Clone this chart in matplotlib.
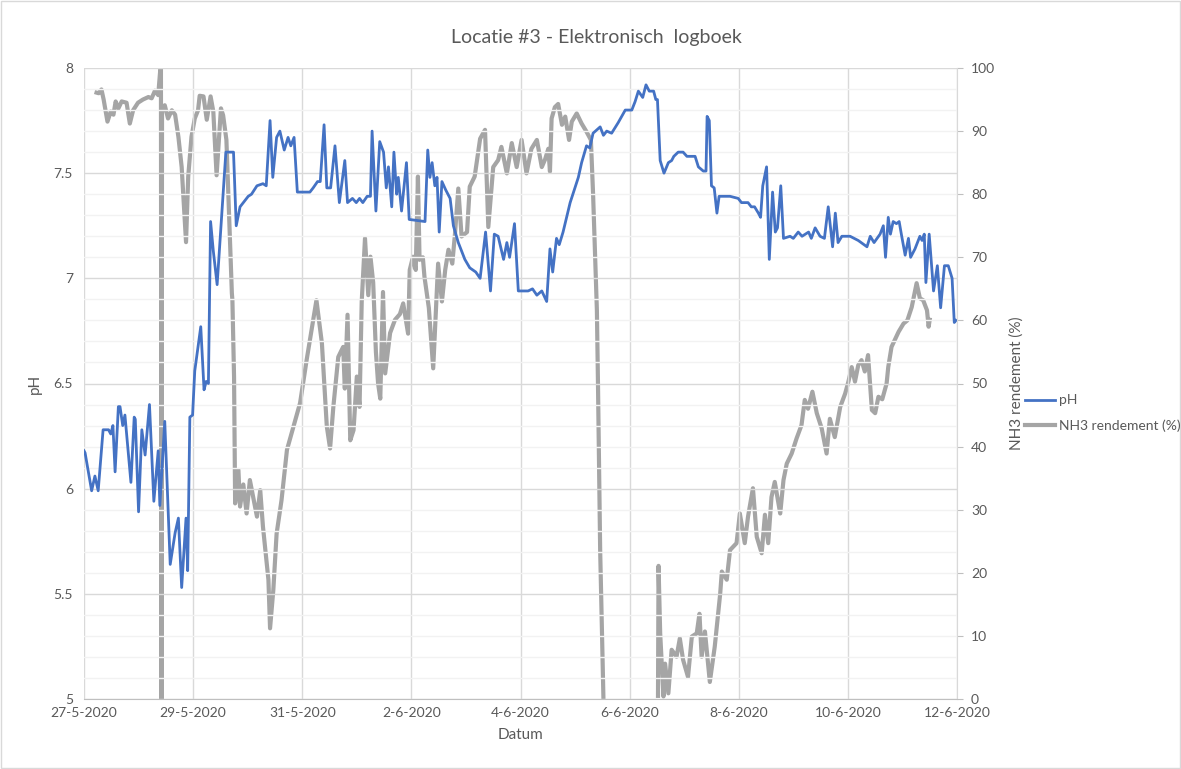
import numpy as np
import pandas as pd
import matplotlib
matplotlib.use("Agg")
import matplotlib.pyplot as plt
import matplotlib.dates as mdates
from matplotlib.ticker import FuncFormatter, MultipleLocator

plt.rcParams['font.family'] = ['Lato', 'DejaVu Sans']

start = pd.Timestamp("2020-05-27")

# pH: tijd in dagen na 27-5-2020
ph_dag = [0.00, 0.02, 0.14, 0.20, 0.26, 0.35, 0.45, 0.49, 0.53, 0.57, 0.63, 0.66, 0.71, 0.75,
          0.86, 0.92, 0.94, 1.00, 1.06, 1.12, 1.20, 1.28, 1.36, 1.39, 1.48, 1.58, 1.67, 1.73,
          1.79, 1.87, 1.90, 1.94, 1.99, 2.03, 2.14, 2.20, 2.24, 2.28, 2.32, 2.37, 2.44, 2.60,
          2.74, 2.79, 2.86, 2.92, 3.01, 3.07, 3.17, 3.28, 3.34, 3.41, 3.46, 3.53, 3.59, 3.67,
          3.74, 3.79, 3.85, 3.91, 4.14, 4.20, 4.28, 4.33, 4.40, 4.45, 4.52, 4.60, 4.68, 4.78,
          4.83, 4.92, 4.99, 5.05, 5.11, 5.19, 5.25, 5.28, 5.35, 5.42, 5.49, 5.54, 5.58, 5.64,
          5.68, 5.73, 5.76, 5.82, 5.91, 5.96, 6.25, 6.30, 6.34, 6.38, 6.43, 6.47, 6.51, 6.56,
          6.63, 6.71, 6.77, 6.86, 6.98, 7.07, 7.18, 7.26, 7.36, 7.45, 7.52, 7.59, 7.69, 7.75,
          7.80, 7.89, 7.96, 8.14, 8.22, 8.30, 8.39, 8.48, 8.54, 8.59, 8.66, 8.71, 8.78, 8.91,
          9.06, 9.12, 9.21, 9.27, 9.33, 9.46, 9.52, 9.58, 9.67, 9.79, 9.92, 10.04, 10.10, 10.16,
          10.24, 10.30, 10.36, 10.44, 10.48, 10.51, 10.56, 10.63, 10.71, 10.77, 10.81, 10.89,
          10.98, 11.05, 11.20, 11.26, 11.35, 11.40, 11.42, 11.46, 11.50, 11.55, 11.60, 11.64,
          11.75, 11.84, 11.99, 12.05, 12.17, 12.23, 12.29, 12.36, 12.40, 12.44, 12.51, 12.56,
          12.62, 12.67, 12.71, 12.77, 12.82, 12.94, 13.00, 13.09, 13.16, 13.28, 13.33, 13.40,
          13.49, 13.57, 13.64, 13.72, 13.77, 13.82, 13.89, 14.04, 14.19, 14.35, 14.41, 14.48,
          14.59, 14.65, 14.69, 14.74, 14.78, 14.83, 14.89, 14.94, 14.98, 15.05, 15.11, 15.15,
          15.23, 15.32, 15.36, 15.40, 15.43, 15.49, 15.57, 15.64, 15.70, 15.77, 15.84, 15.91,
          15.95, 15.98]
ph = [6.18, 6.17, 5.99, 6.06, 5.99, 6.28, 6.28, 6.26, 6.30, 6.08, 6.39, 6.39, 6.30, 6.35,
      6.03, 6.34, 6.33, 5.89, 6.28, 6.16, 6.40, 5.94, 6.18, 5.92, 6.32, 5.64, 5.79, 5.86,
      5.53, 5.86, 5.61, 6.34, 6.35, 6.56, 6.77, 6.47, 6.51, 6.50, 7.27, 7.13, 6.97, 7.60,
      7.60, 7.25, 7.34, 7.36, 7.39, 7.40, 7.44, 7.45, 7.44, 7.75, 7.48, 7.67, 7.70, 7.61,
      7.67, 7.63, 7.67, 7.41, 7.41, 7.43, 7.46, 7.46, 7.73, 7.43, 7.43, 7.63, 7.36, 7.56,
      7.36, 7.38, 7.36, 7.38, 7.36, 7.39, 7.39, 7.70, 7.32, 7.65, 7.60, 7.43, 7.53, 7.34,
      7.60, 7.40, 7.48, 7.32, 7.55, 7.28, 7.27, 7.61, 7.48, 7.55, 7.44, 7.48, 7.22, 7.46,
      7.42, 7.38, 7.25, 7.17, 7.09, 7.05, 7.03, 7.00, 7.22, 6.94, 7.21, 7.20, 7.09, 7.17,
      7.10, 7.26, 6.94, 6.94, 6.95, 6.92, 6.94, 6.89, 7.14, 7.03, 7.19, 7.16, 7.22, 7.36,
      7.48, 7.55, 7.63, 7.62, 7.69, 7.72, 7.68, 7.70, 7.69, 7.74, 7.80, 7.80, 7.84, 7.89,
      7.86, 7.92, 7.89, 7.89, 7.85, 7.85, 7.56, 7.50, 7.55, 7.56, 7.58, 7.60,
      7.60, 7.58, 7.58, 7.53, 7.51, 7.51, 7.77, 7.75, 7.44, 7.43, 7.31, 7.39,
      7.39, 7.39, 7.38, 7.36, 7.36, 7.34, 7.34, 7.31, 7.29, 7.44, 7.53, 7.09,
      7.41, 7.22, 7.24, 7.44, 7.19, 7.20, 7.19, 7.22, 7.20, 7.22, 7.19, 7.24,
      7.20, 7.19, 7.34, 7.15, 7.31, 7.17, 7.20, 7.20, 7.18, 7.15, 7.20, 7.17,
      7.21, 7.25, 7.10, 7.29, 7.21, 7.27, 7.26, 7.27, 7.21, 7.11, 7.19, 7.10,
      7.14, 7.20, 7.18, 7.21, 6.98, 7.21, 6.94, 7.06, 6.86, 7.06, 7.06, 7.00,
      6.79, 6.80]

# NH3 rendement (%), tijd in dagen na 27-5-2020 (nan = geen meting)
nh3_dag = [0.23, 0.27, 0.32, 0.36, 0.43, 0.49, 0.54, 0.58, 0.63, 0.69, 0.78, 0.84, 0.90, 0.99,
           1.08, 1.18, 1.24, 1.30, 1.36, 1.41, 1.42, 1.43, 1.48, 1.54, 1.61, 1.67, 1.73, 1.79,
           1.87, 1.91, 1.97, 2.03, 2.09, 2.12, 2.19, 2.25, 2.32, 2.37, 2.43, 2.51, 2.55, 2.61,
           2.71, 2.72, 2.75, 2.77, 2.83, 2.86, 2.92, 2.98, 3.04, 3.10, 3.17, 3.23, 3.28, 3.38,
           3.41, 3.47, 3.53, 3.62, 3.72, 3.84, 3.96, 4.08, 4.20, 4.26, 4.36, 4.45, 4.51, 4.57,
           4.66, 4.75, 4.78, 4.83, 4.88, 4.94, 5.00, 5.05, 5.09, 5.15, 5.21, 5.25, 5.30, 5.35,
           5.39, 5.43, 5.48, 5.52, 5.61, 5.70, 5.79, 5.85, 5.94, 5.97, 6.03, 6.08, 6.12, 6.15,
           6.21, 6.24, 6.32, 6.40, 6.49, 6.56, 6.62, 6.68, 6.75, 6.80, 6.86, 6.92, 7.02, 7.07,
           7.16, 7.26, 7.35, 7.41, 7.50, 7.59, 7.65, 7.75, 7.84, 7.93, 8.02, 8.11, 8.20, 8.30,
           8.39, 8.45, 8.51, 8.54, 8.57, 8.63, 8.69, 8.76, 8.82, 8.89, 8.94, 9.03, 9.12, 9.21,
           9.29, 9.33, 9.40, 9.42, 9.46, 9.52, 9.53,
           10.51, 10.52, 10.53, 10.56, 10.62, 10.65, 10.71, 10.77, 10.86, 10.92, 10.98, 11.07,
           11.14, 11.23, 11.28, 11.32, 11.38, 11.47, 11.56, 11.66, 11.69, 11.78, 11.84, 11.96,
           12.02, 12.11, 12.17, 12.26, 12.33, 12.42, 12.48, 12.54, 12.60, 12.66, 12.76, 12.82,
           12.88, 12.97, 13.06, 13.15, 13.21, 13.27, 13.35, 13.43, 13.52, 13.61, 13.67, 13.76,
           13.86, 13.95, 14.01, 14.07, 14.13, 14.19, 14.25, 14.31, 14.37, 14.44, 14.50, 14.56,
           14.63, 14.71, 14.74, 14.80, 14.86, 14.93, 15.02, 15.09, 15.17, 15.26, 15.32, 15.38,
           15.45, 15.48, 15.50]
nh3 = [96.1, 96.0, 96.6, 95.0, 91.5, 93.1, 92.6, 94.7, 93.6, 94.7, 94.5, 91.2, 93.3, 94.5,
       95.0, 95.4, 95.2, 96.4, 95.7, 101.0, 0.0, 93.0, 94.1, 92.0, 93.3, 92.6, 89.1, 84.3,
       72.4, 82.8, 89.1, 92.0, 93.3, 95.6, 95.5, 91.8, 95.5, 93.1, 83.0, 93.6, 92.5, 88.6,
       64.3, 63.2, 51.1, 31.0, 36.3, 30.5, 34.0, 29.4, 34.7, 32.0, 28.9, 33.1, 27.3, 18.9,
       11.2, 17.3, 26.2, 31.5, 39.5, 43.2, 46.9, 53.7, 60.1, 63.2, 56.4, 43.2, 39.7, 46.3,
       54.2, 55.8, 49.2, 60.9, 41.0, 42.6, 51.1, 46.3, 63.0, 73.0, 64.0, 70.1, 66.0, 55.0,
       50.0, 47.6, 64.5, 51.6, 58.0, 60.1, 61.0, 62.7, 57.9, 68.0, 70.1, 68.0, 82.8, 69.6,
       70.0, 66.9, 62.0, 52.4, 69.0, 63.0, 68.0, 71.2, 69.0, 73.8, 80.9, 73.3, 74.0, 81.2,
       82.8, 88.8, 90.2, 74.8, 84.3, 85.4, 87.5, 83.3, 88.1, 84.3, 88.6, 83.3, 87.2, 88.6,
       84.3, 85.5, 87.2, 83.6, 92.0, 93.8, 94.3, 91.0, 92.3, 88.6, 91.5, 92.8, 91.2, 89.9,
       88.6, 80.1, 61.6, 50.0, 23.6, 0.1, np.nan,
       np.nan, 0.5, 21.1, 10.4, 0.4, 5.6, 0.9, 7.8, 6.7, 9.6, 6.2, 3.5,
       9.9, 10.4, 13.5, 6.7, 10.7, 2.7, 8.3, 16.7, 20.2, 18.9, 23.6, 24.7,
       29.4, 24.7, 28.9, 33.4, 25.7, 23.1, 29.2, 24.7, 32.0, 34.4, 29.4, 34.7,
       37.3, 38.9, 41.3, 43.4, 47.4, 46.0, 48.7, 45.3, 42.9, 38.9, 44.4, 41.5,
       46.3, 48.4, 50.3, 52.6, 50.3, 52.9, 53.7, 51.9, 54.5, 45.8, 45.3, 47.9,
       47.5, 50.0, 52.6, 55.8, 56.9, 58.2, 59.5, 60.0, 62.1, 65.9, 63.5, 63.2,
       61.6, 59.0, 60.1]

ph_tijd = start + pd.to_timedelta(ph_dag, unit="D")
nh3_tijd = start + pd.to_timedelta(nh3_dag, unit="D")

blauw = "#4472C4"
grijs = "#A5A5A5"
tekst = "#595959"

fig = plt.figure(figsize=(11.81, 7.69), dpi=100)
ax = fig.add_axes([84/1181, 1-699/769, (957-84)/1181, (699-68)/769])
ax2 = ax.twinx()

# grid
ax.set_ylim(5, 8)
ax.yaxis.set_major_locator(MultipleLocator(0.5))
ax.yaxis.set_minor_locator(MultipleLocator(0.1))
ax.yaxis.set_major_formatter(FuncFormatter(lambda v, p: "%g" % v))
ax.grid(which="major", axis="y", color="#D9D9D9", lw=1)
ax.grid(which="minor", axis="y", color="#F2F2F2", lw=1)
ax.grid(which="major", axis="x", color="#D9D9D9", lw=1)
ax.set_axisbelow(True)

ax.set_xlim(start, start + pd.Timedelta(days=16))
ax.xaxis.set_major_locator(mdates.DayLocator(interval=2))
ax.xaxis.set_major_formatter(FuncFormatter(
    lambda v, p: "{d.day}-{d.month}-{d.year}".format(d=mdates.num2date(v))))

lijn_nh3, = ax2.plot(nh3_tijd, nh3, color=grijs, lw=3.0, label="NH3 rendement (%)",
                     solid_joinstyle="round", zorder=2)
lijn_ph, = ax.plot(ph_tijd, ph, color=blauw, lw=2.0, label="pH", zorder=3)
ax.set_zorder(ax2.get_zorder() + 1)
ax.patch.set_visible(False)

ax2.set_ylim(0, 100)
ax2.yaxis.set_major_locator(MultipleLocator(10))

for a in (ax, ax2):
    for s in a.spines.values():
        s.set_visible(False)
ax.spines["bottom"].set_visible(True)
ax.spines["bottom"].set_color("#BFBFBF")
ax2.spines["right"].set_visible(True)
ax2.spines["right"].set_color("#D9D9D9")

ax.tick_params(axis="y", which="both", length=0, labelsize=10, labelcolor=tekst, pad=8)
ax.tick_params(axis="x", length=0, labelsize=10, labelcolor=tekst, pad=6)
ax2.tick_params(axis="y", length=4, color="#BFBFBF", labelsize=10, labelcolor=tekst, pad=6)

ax.set_xlabel("Datum", fontsize=11, color=tekst, labelpad=6)
ax.set_ylabel("pH", fontsize=11, color=tekst, labelpad=8)
ax2.set_ylabel("NH3 rendement (%)", fontsize=11, color=tekst, labelpad=10)

fig.text(596/1181, 1 - 37/769, "Locatie #3 - Elektronisch  logboek",
         ha="center", va="center", fontsize=14, color=tekst)

fig.legend(handles=[lijn_ph, lijn_nh3], loc="center left",
           bbox_to_anchor=(1012/1181, 1 - 413/769), frameon=False, fontsize=10,
           labelcolor=tekst, handlelength=2.2, handletextpad=0.3, labelspacing=0.9)

fig.patches.append(plt.Rectangle((0.0005, 0.0007), 0.999, 0.9986, transform=fig.transFigure,
                                 fill=False, edgecolor="#D9D9D9", lw=1))

fig.savefig("out.png", dpi=100)
